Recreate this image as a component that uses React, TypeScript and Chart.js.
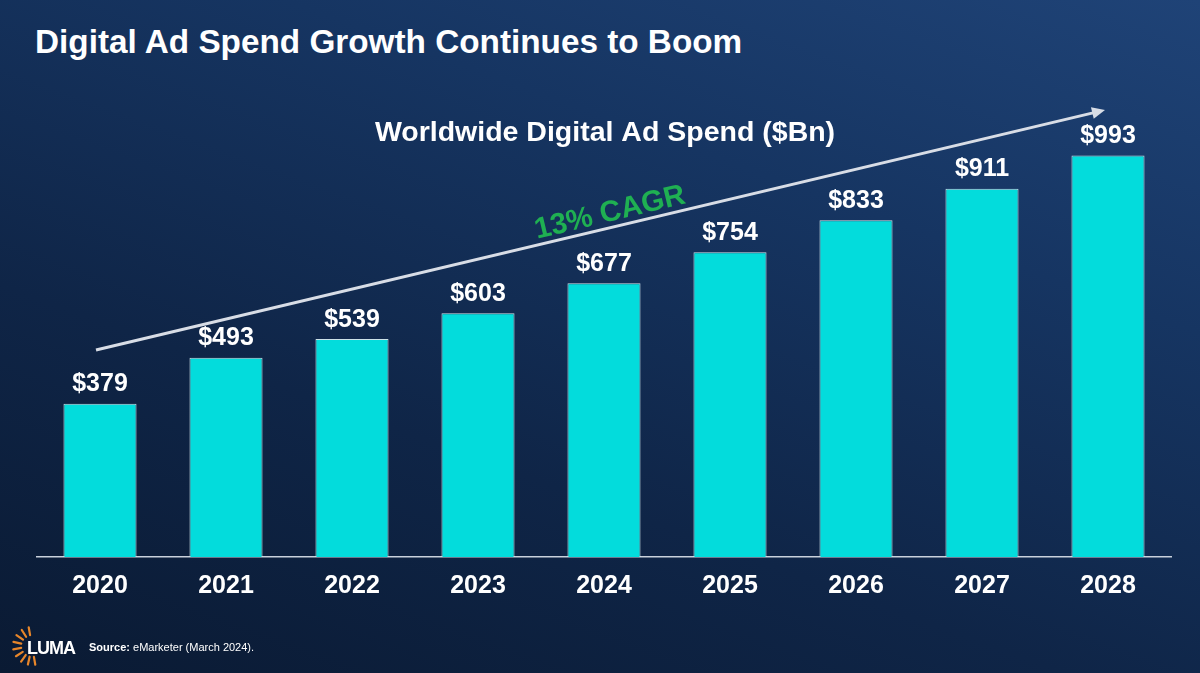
import React, { useEffect, useRef } from "react";
import { Chart, registerables } from "chart.js";

Chart.register(...registerables);

const years = ["2020", "2021", "2022", "2023", "2024", "2025", "2026", "2027", "2028"];
const spend = [379, 493, 539, 603, 677, 754, 833, 911, 993];
const valueLabels = ["$379", "$493", "$539", "$603", "$677", "$754", "$833", "$911", "$993"];
const titleText = "Digital Ad Spend Growth Continues to Boom";
const subtitleText = "Worldwide Digital Ad Spend ($Bn)";
const cagrText = "13% CAGR";
const sourceLabel = "Source:";
const sourceText = " eMarketer (March 2024).";

const FONT = "'Liberation Sans', Arial, Helvetica, sans-serif";

const overlayPlugin = {
  id: "overlay",
  afterDatasetsDraw(chart: any) {
    const ctx = chart.ctx;
    const meta = chart.getDatasetMeta(0);
    ctx.save();
    ctx.fillStyle = "#ffffff";
    ctx.font = `bold 25px ${FONT}`;
    ctx.textAlign = "center";
    ctx.textBaseline = "bottom";
    meta.data.forEach((bar: any, i: number) => {
      ctx.fillText(valueLabels[i], bar.x, bar.y - 7);
    });
    // subtitle
    ctx.font = `bold 28.5px ${FONT}`;
    ctx.textBaseline = "middle";
    ctx.fillText(subtitleText, 605, 133);
    // arrow
    const x1 = 96, y1 = 350, x2 = 1105, y2 = 110;
    const ang = Math.atan2(y2 - y1, x2 - x1);
    ctx.strokeStyle = "#d8dde6";
    ctx.lineWidth = 3;
    ctx.beginPath();
    ctx.moveTo(x1, y1);
    ctx.lineTo(x2 - 8 * Math.cos(ang), y2 - 8 * Math.sin(ang));
    ctx.stroke();
    ctx.fillStyle = "#d8dde6";
    ctx.beginPath();
    ctx.moveTo(x2, y2);
    ctx.lineTo(x2 - 13 * Math.cos(ang) + 6 * Math.sin(ang), y2 - 13 * Math.sin(ang) - 6 * Math.cos(ang));
    ctx.lineTo(x2 - 13 * Math.cos(ang) - 6 * Math.sin(ang), y2 - 13 * Math.sin(ang) + 6 * Math.cos(ang));
    ctx.closePath();
    ctx.fill();
    // CAGR text
    ctx.translate(610, 213);
    ctx.rotate(ang);
    ctx.fillStyle = "#1fb052";
    ctx.font = `bold 29.5px ${FONT}`;
    ctx.textAlign = "center";
    ctx.textBaseline = "middle";
    ctx.fillText(cagrText, 0, 0);
    ctx.restore();
  },
};

export default function App() {
  const ref = useRef<HTMLCanvasElement | null>(null);
  useEffect(() => {
    document.body.style.margin = "0";
    const chart = new Chart(ref.current as HTMLCanvasElement, {
      type: "bar",
      data: {
        labels: years,
        datasets: [
          {
            data: spend,
            backgroundColor: "#03dcdc",
            borderColor: "rgba(225,245,248,0.9)",
            borderWidth: 1,
            categoryPercentage: 1,
            barPercentage: 0.58,
          },
        ],
      },
      options: {
        responsive: false,
        animation: false,
        layout: { padding: { left: 37, right: 29, top: 80, bottom: 58 } },
        plugins: { legend: { display: false }, tooltip: { enabled: false }, title: { display: false } },
        scales: {
          x: {
            grid: { display: false, drawTicks: false },
            border: { display: true, color: "#c9d1dc", width: 1.5 },
            ticks: { color: "#ffffff", font: { family: FONT, size: 25, weight: "bold" }, padding: 14 },
          },
          y: { display: false, min: 0, max: 1180 },
        },
      },
      plugins: [overlayPlugin],
    });
    return () => chart.destroy();
  }, []);

  const rays = [] as any[];
  for (let i = 0; i < 9; i++) {
    const a = (-100 + i * 22.5) * (Math.PI / 180);
    const cx = 32, cy = 26;
    const r1 = 11, r2 = 19;
    rays.push(
      <line key={i} x1={cx + r1 * Math.cos(a + Math.PI)} y1={cy + r1 * Math.sin(a + Math.PI)}
        x2={cx + r2 * Math.cos(a + Math.PI)} y2={cy + r2 * Math.sin(a + Math.PI)}
        stroke="#e8862a" strokeWidth={2.2} strokeLinecap="round" />
    );
  }

  return (
    <div
      style={{
        position: "fixed",
        left: 0,
        top: 0,
        width: 1200,
        height: 673,
        overflow: "hidden",
        background: "linear-gradient(200deg, #1f4377 0%, #163562 30%, #0f2547 65%, #0a1a33 100%)",
        fontFamily: FONT,
      }}
    >
      <div style={{ position: "absolute", left: 35, top: 22, color: "#fff", fontWeight: "bold", fontSize: 33.3, lineHeight: "40px", whiteSpace: "nowrap" }}>
        {titleText}
      </div>
      <canvas ref={ref} width={1200} height={673} style={{ position: "absolute", left: 0, top: 0 }} />
      <svg width={90} height={50} style={{ position: "absolute", left: 0, top: 620 }}>
        {rays}
        <text x={27} y={34} fill="#fff" fontWeight="bold" fontSize={18} fontFamily={FONT} letterSpacing={-1}>LUMA</text>
      </svg>
      <div style={{ position: "absolute", left: 89, top: 641, color: "#fff", fontSize: 11, whiteSpace: "nowrap" }}>
        <b>{sourceLabel}</b>
        {sourceText}
      </div>
    </div>
  );
}
